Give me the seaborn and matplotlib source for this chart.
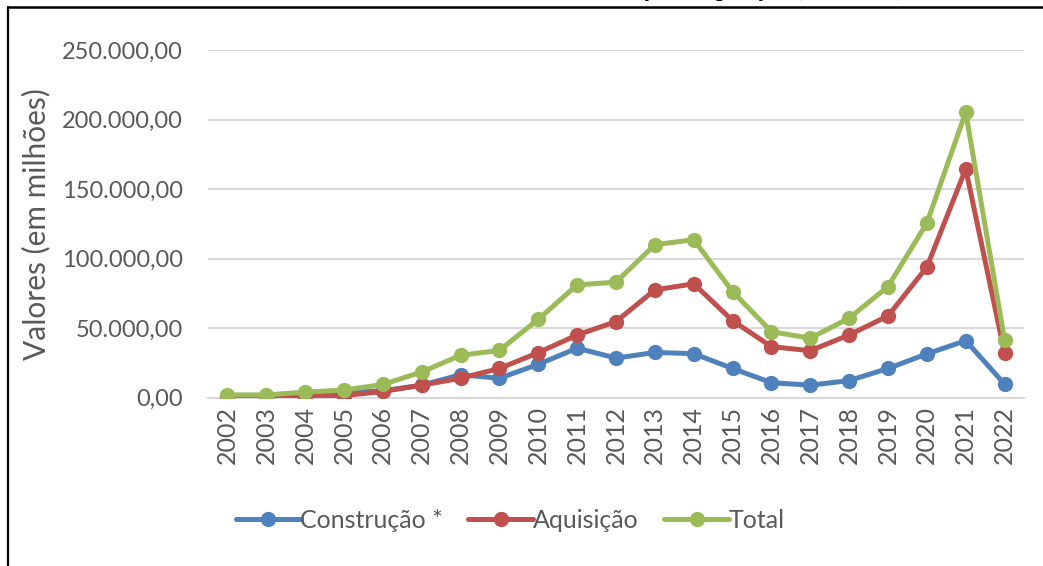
import pandas as pd
import matplotlib
matplotlib.use("Agg")
import matplotlib.pyplot as plt
from matplotlib.ticker import FuncFormatter, MultipleLocator
from matplotlib.lines import Line2D
import seaborn as sns

# -----------------------------
# Data (valores em milhões)
# -----------------------------
anos = list(range(2002, 2023))
construcao = [500, 500, 2500, 3500, 5000, 9000, 16500, 14000, 24000, 35600, 28500,
              32500, 31700, 21000, 10800, 9000, 12300, 21000, 31500, 41000, 9800]
aquisicao = [1500, 1500, 1500, 1500, 4500, 9000, 14000, 21000, 32400, 45100, 54700,
             77500, 81900, 55400, 36700, 33800, 45100, 58800, 93900, 164500, 32000]
total = [2000, 2000, 4000, 5500, 9500, 18500, 30500, 34000, 56400, 81100, 83100,
         110000, 113600, 76300, 47500, 42800, 57200, 79900, 125600, 205300, 41500]
series_names = ["Construção *", "Aquisição", "Total"]
colors = ["#4F81BD", "#C0504D", "#9BBB59"]

df = pd.DataFrame({"ano": anos, "Construção *": construcao,
                   "Aquisição": aquisicao, "Total": total})
df_long = df.melt(id_vars="ano", var_name="serie", value_name="valor")

# -----------------------------
# Style
# -----------------------------
sns.set_theme(style="white")
plt.rcParams["font.family"] = ["Lato", "DejaVu Sans"]
grey = "#595959"

fig = plt.figure(figsize=(10.43, 5.66), dpi=100)
ax = fig.add_axes([208 / 1043, 1 - 397.7 / 566, (1024 - 208) / 1043, (397.7 - 50) / 566])

sns.lineplot(data=df_long, x="ano", y="valor", hue="serie", hue_order=series_names,
             palette=colors, marker="o", markersize=11, markeredgewidth=0,
             linewidth=3.6, ax=ax, legend=False, zorder=3)

# axes
ax.set_xlim(2001.5, 2022.5)
ax.set_ylim(0, 250000)
ax.yaxis.set_major_locator(MultipleLocator(50000))
ax.set_xticks(anos)
ax.set_xticklabels([str(a) for a in anos], rotation=90)

def br_fmt(v, pos):
    s = f"{v:,.2f}"
    return s.replace(",", "X").replace(".", ",").replace("X", ".")

ax.yaxis.set_major_formatter(FuncFormatter(br_fmt))
ax.grid(axis="y", color="#D9D9D9", linewidth=1.5, zorder=0)
for side in ["left", "right", "top"]:
    ax.spines[side].set_visible(False)
ax.spines["bottom"].set_color("#D9D9D9")
ax.spines["bottom"].set_linewidth(1.5)
ax.tick_params(axis="y", length=0, labelsize=17, labelcolor=grey, pad=18)
ax.tick_params(axis="x", length=0, labelsize=18, labelcolor=grey, pad=6)
ax.set_xlabel("")
ax.set_ylabel("Valores (em milhões)", fontsize=21.5, color=grey)
ax.yaxis.set_label_coords(-(208 - 50) / 816, 0.5)

# legend
handles = [Line2D([0], [0], color=c, lw=3.6, marker="o", markersize=11,
                  markeredgewidth=0) for c in colors]
fig.legend(handles, series_names, loc="center left", bbox_to_anchor=(213 / 1043, 1 - 520 / 566),
           ncol=3, frameon=False, fontsize=18, handlelength=2.6, handletextpad=0.0,
           columnspacing=1.0, labelcolor=grey)

# frame and clipped caption at top
fig.add_artist(Line2D([8 / 1043, 8 / 1043], [0, 1 - 7 / 566], color="black", lw=1.6))
fig.add_artist(Line2D([8 / 1043, 1], [1 - 7 / 566, 1 - 7 / 566], color="black", lw=1.8))
fig.text(905 / 1043, 1 + 4 / 566, "Valores de Construção e Aquisição (2002-2022)",
         ha="right", va="baseline", fontsize=16, fontweight="bold",
         family="Liberation Serif", color="black")

plt.savefig("out.png", dpi=100)
